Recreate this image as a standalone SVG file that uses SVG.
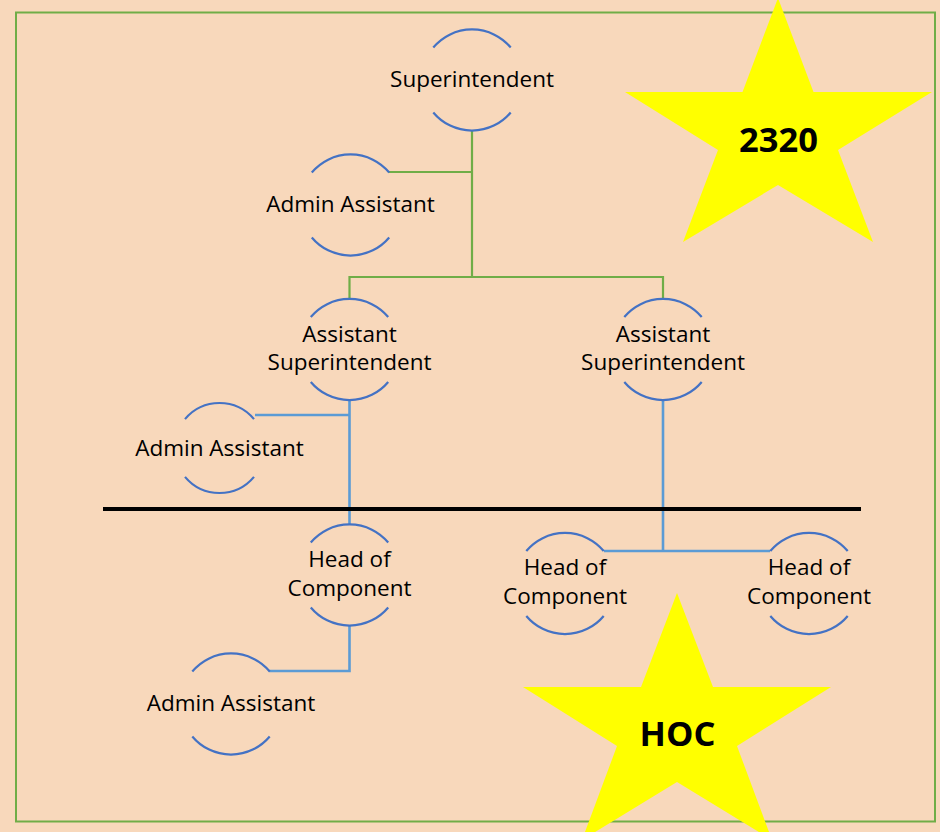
<svg xmlns="http://www.w3.org/2000/svg" xmlns:xlink="http://www.w3.org/1999/xlink" width="940" height="832" viewBox="0 0 940 832">
<style>
.arc{fill:none;stroke:#4472C4;stroke-width:2.2}
.lbl{font-family:"Open Sans","Noto Sans","Liberation Sans",sans-serif;font-size:22.5px;fill:#000;text-anchor:middle}
.star{fill:#FFFF00;stroke:none}
.stxt{font-family:"Open Sans","Noto Sans","Liberation Sans",sans-serif;font-size:34.5px;font-weight:bold;fill:#000;text-anchor:middle}
.green{fill:none;stroke:#70AD47;stroke-width:2.2}
.blue{fill:none;stroke:#5B9BD5;stroke-width:2.6}
</style>
<defs>
<path id="ring" class="arc" d="M-38.7,-32.5 A50.5,50.5 0 0 1 38.7,-32.5 M-38.7,32.5 A50.5,50.5 0 0 0 38.7,32.5"/>
<path id="ringS" class="arc" d="M-34.5,-28.9 A45,45 0 0 1 34.5,-28.9 M-34.5,28.9 A45,45 0 0 0 34.5,28.9"/>
</defs>
<rect x="0" y="0" width="940" height="832" fill="#F8D8BB"/>
<rect x="16" y="12.5" width="919" height="809" fill="none" stroke="#70AD47" stroke-width="2"/>
<g id="connectors">
<path class="green" d="M389,172 H472 M472,130.5 V277 M349.5,299 V277 H663 V299"/>
<path class="blue" d="M349.5,400 V524.5 M255,415 H349.5 M663,400 V551 M604,551 H770 M269,671 H349.5 V625.5"/>
</g>
<line id="divider" x1="103" y1="509" x2="861" y2="509" stroke="#000" stroke-width="4.2"/>
<g id="n-superintendent" transform="translate(472,80)">
<use xlink:href="#ring"/>
<text class="lbl" x="0" y="7">Superintendent</text>
</g>
<g id="n-admin1" transform="translate(350.5,205)">
<use xlink:href="#ring"/>
<text class="lbl" x="0" y="7">Admin Assistant</text>
</g>
<g id="n-asst-left" transform="translate(349.5,349.5)">
<use xlink:href="#ring"/>
<text class="lbl" x="0" y="-7.5">Assistant</text>
<text class="lbl" x="0" y="20.5">Superintendent</text>
</g>
<g id="n-asst-right" transform="translate(663,349.5)">
<use xlink:href="#ring"/>
<text class="lbl" x="0" y="-7.5">Assistant</text>
<text class="lbl" x="0" y="20.5">Superintendent</text>
</g>
<g id="n-admin2" transform="translate(219.5,448)">
<use xlink:href="#ringS"/>
<text class="lbl" x="0" y="8">Admin Assistant</text>
</g>
<g id="n-hoc-left" transform="translate(349.5,575)">
<use xlink:href="#ring"/>
<text class="lbl" x="0" y="-8">Head of</text>
<text class="lbl" x="0" y="21">Component</text>
</g>
<g id="n-hoc-mid" transform="translate(565,583.5)">
<use xlink:href="#ring"/>
<text class="lbl" x="0" y="-8.5">Head of</text>
<text class="lbl" x="0" y="20.5">Component</text>
</g>
<g id="n-hoc-right" transform="translate(809,583.5)">
<use xlink:href="#ring"/>
<text class="lbl" x="0" y="-8.5">Head of</text>
<text class="lbl" x="0" y="20.5">Component</text>
</g>
<g id="n-admin3" transform="translate(231,704)">
<use xlink:href="#ring"/>
<text class="lbl" x="0" y="7">Admin Assistant</text>
</g>
<g id="star-2320">
<polygon class="star" points="778,-2 813.5,92 932,92 838,150 873,242 778,185 683,242 718,150 625,92 742.5,92"/>
<text class="stxt" x="778.5" y="152">2320</text>
</g>
<g id="star-hoc">
<polygon class="star" points="677,593 713,687 831,687 737,746 772,840 677,782 582,840 617,746 523,687 641,687"/>
<text class="stxt" x="677.5" y="746">HOC</text>
</g>
</svg>
